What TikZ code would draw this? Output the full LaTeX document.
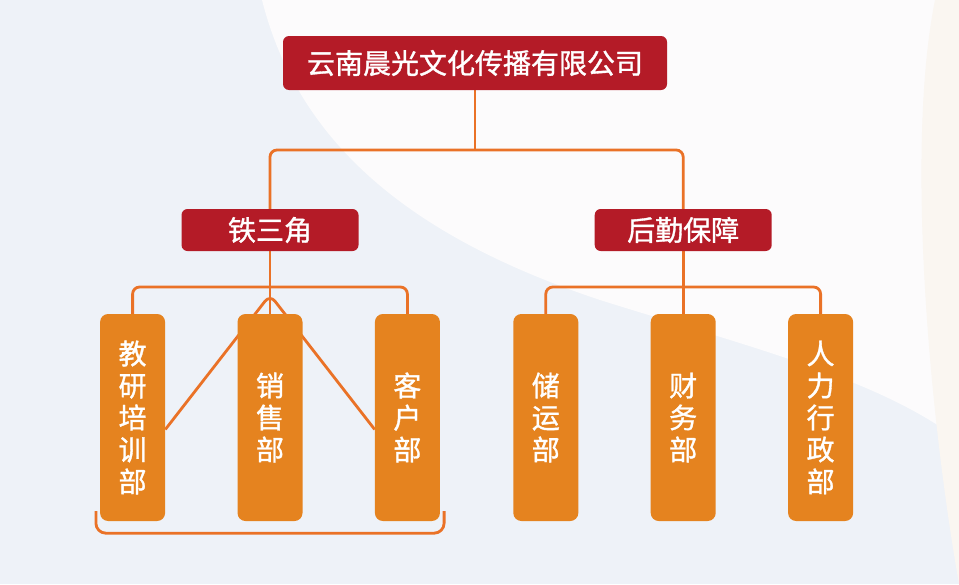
\documentclass[tikz,border=0pt]{standalone}
\usepackage{fontspec}
\newfontfamily\cjk[FakeBold=1.2]{Noto Sans CJK SC}
\usepackage{tikz}
\usetikzlibrary{positioning, calc, backgrounds}
\definecolor{CorpRed}{HTML}{B41B27}
\definecolor{DeptOrange}{HTML}{E5831F}
\definecolor{LinkOrange}{HTML}{EA7227}
\definecolor{PaleBlue}{HTML}{EEF2F8}
\definecolor{SoftWhite}{HTML}{FCFBFC}
\definecolor{Cream}{HTML}{FAF6F1}
\pgfdeclarelayer{backdrop}
\pgfsetlayers{backdrop,background,main}

\begin{document}
\begin{tikzpicture}[
  x=1pt, y=-1pt,
  head/.style={
    rectangle, rounded corners=6pt,
    fill=CorpRed, text=white,
    minimum width=384pt, minimum height=54pt,
    inner sep=0pt, font=\cjk\fontsize{28pt}{32pt}\selectfont
  },
  group/.style={
    rectangle, rounded corners=6pt,
    fill=CorpRed, text=white,
    minimum width=177pt, minimum height=42pt,
    inner sep=0pt, font=\cjk\fontsize{28pt}{32pt}\selectfont
  },
  dept/.style={
    rectangle, rounded corners=8pt,
    fill=DeptOrange, text=white,
    minimum width=65pt, minimum height=207pt,
    inner sep=0pt, align=center,
    font=\cjk\fontsize{28pt}{32pt}\selectfont
  },
  conn/.style={draw=LinkOrange, line width=2.8pt},
]

\useasboundingbox (0,0) rectangle (959,584);

% Backdrop
\begin{pgfonlayer}{backdrop}
\fill[PaleBlue] (0,0) rectangle (959,584);
\fill[SoftWhite] (262,0) .. controls (300,150) and (420,240) .. (600,300)
  .. controls (760,350) and (880,380) .. (959,440) -- (959,0) -- cycle;
\fill[Cream] (935,0) .. controls (905,150) and (930,420) .. (959,584) -- (959,0) -- cycle;
\end{pgfonlayer}

% Departments
\node[dept] (sales) at (270,417.5) {销\\售\\部};
\node[dept, left=72pt of sales] (edu) {教\\研\\培\\训\\部};
\node[dept, right=72pt of sales] (cust) {客\\户\\部};
\node[dept, right=73pt of cust] (store) {储\\运\\部};
\node[dept, right=72pt of store] (fin) {财\\务\\部};
\node[dept, right=72pt of fin] (hr) {人\\力\\行\\政\\部};

% Groups and company
\node[group] (tri) at (270,230) {铁三角};
\node[group] (hq) at (fin |- tri) {后勤保障};
\node[head] (company) at (475,63) {云南晨光文化传播有限公司};

\coordinate (split) at (475,150);
\coordinate (barL) at (270,287);
\coordinate (barR) at (683,287);
\coordinate (apex) at ($(sales.north)+(0,-19)$);

% Connectors
\begin{pgfonlayer}{background}
\draw[conn] (company.south) -- (split);
\draw[conn, rounded corners=7pt] (tri.north) |- (split) -| (hq.north);
\draw[conn] (tri.south) -- (sales.north);
\draw[conn, rounded corners=7pt] (edu.north) |- (barL) -| (cust.north);
\draw[conn] (hq.south) -- (fin.north);
\draw[conn, rounded corners=7pt] (store.north) |- (barR) -| (hr.north);
% triangle
\draw[conn, rounded corners=8pt] ($(edu.east)+(0,12)$) -- (apex) -- ($(cust.west)+(0,12)$);
\draw[conn, rounded corners=10pt] ($(edu.south west)+(-4,-10)$) -- ++(0,22)
  -| ($(cust.south east)+(4,-10)$);
\end{pgfonlayer}

\end{tikzpicture}
\end{document}
